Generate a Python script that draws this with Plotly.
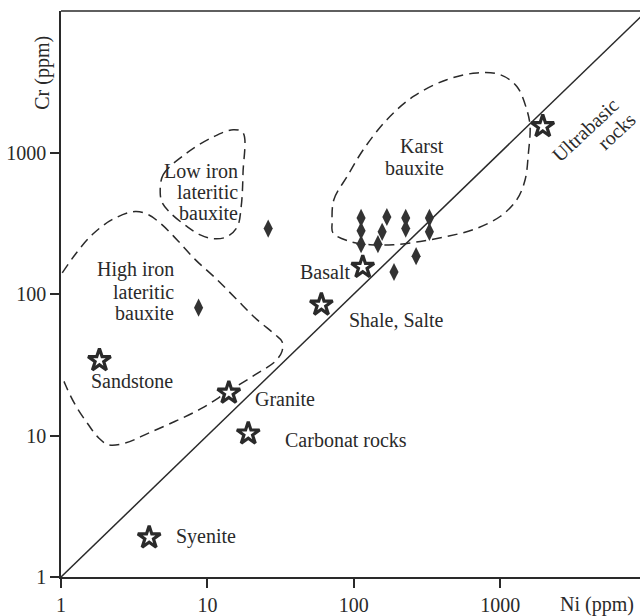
import math
import plotly.graph_objects as go

# ---- data (Ni ppm, Cr ppm) ----
diamond_ni = [8.7, 26, 112, 112, 112, 168, 156, 146, 226, 226, 328, 328, 266, 188]
diamond_cr = [80, 290, 345, 280, 225, 350, 275, 225, 345, 290, 345, 275, 185, 143]

rock_names = ["Sandstone", "Granite", "Carbonat rocks", "Syenite", "Shale, Salte", "Basalt", "Ultrabasic rocks"]
rock_ni = [1.83, 14, 19, 4.0, 60, 115, 1950]
rock_cr = [34, 20, 10.3, 1.9, 84, 155, 1530]

low_iron_ni = [4.76, 4.99, 7.28, 11.0, 15.0, 17.5, 17.5, 17.0, 16.0, 13.6, 11.0, 8.93, 7.28, 5.57, 4.91, 4.76]
low_iron_cr = [520, 697, 997, 1293, 1449, 1380, 720, 414, 299, 254, 246, 262, 299, 375, 442, 520]

high_iron_ni = [1.02, 1.25, 1.63, 2.23, 3.21, 3.96, 4.89, 6.35, 8.26, 11.3, 15.5, 21.2, 29.0, 32.3,
                32.3, 29.0, 21.2, 13.9, 9.17, 6.03, 3.96, 2.75, 2.11, 1.81, 1.54, 1.25, 1.07, 1.02]
high_iron_cr = [141, 190, 262, 335, 383, 363, 309, 235, 175, 130, 93.7, 67.7, 51.6, 46.2,
                39.3, 33.4, 26.9, 20.5, 15.6, 12.6, 10.4, 8.85, 8.61, 9.6, 11.9, 16.5, 22.9, 26.2]

karst_ni = [71, 73, 90, 116, 168, 255, 431, 691, 997, 1297, 1517, 1597, 1556, 1477, 1297, 997, 655, 431, 284, 186, 129, 94, 72, 71]
karst_cr = [318, 464, 678, 1047, 1706, 2490, 3270, 3647, 3548, 2931, 2006, 1529, 992, 642, 464, 353, 285, 255, 235, 223, 223, 235, 270, 318]

ref_line = [1, 10000]

x_ticks = [1, 10, 100, 1000]
y_ticks = [1, 10, 100, 1000]

INK = "#2a2a2a"
FONT = "Liberation Serif"
FS = 20

fig = go.Figure()

dash_line = dict(color=INK, width=1.5, dash="10px,6px", shape="spline", smoothing=1.0)
for xs, ys in [(low_iron_ni, low_iron_cr), (high_iron_ni, high_iron_cr), (karst_ni, karst_cr)]:
    fig.add_trace(go.Scatter(x=xs, y=ys, mode="lines", line=dash_line, hoverinfo="skip", showlegend=False))

fig.add_trace(go.Scatter(x=ref_line, y=ref_line, mode="lines", line=dict(color=INK, width=1.5),
                         showlegend=False, hoverinfo="skip"))

fig.add_trace(go.Scatter(x=diamond_ni, y=diamond_cr, mode="markers",
                         marker=dict(symbol="diamond-tall", size=13, color="#333333", line=dict(width=0)),
                         showlegend=False))

fig.add_trace(go.Scatter(x=rock_ni, y=rock_cr, mode="markers", text=rock_names,
                         marker=dict(symbol="star", size=17, color="white", line=dict(width=3.2, color=INK)),
                         showlegend=False, cliponaxis=False))

L = math.log10
def A(text, x, y, xanchor="left", angle=0):
    # annotations on log axes take log10 positions
    fig.add_annotation(x=L(x), y=L(y), xref="x", yref="y", text=text, showarrow=False,
                       xanchor=xanchor, yanchor="middle", textangle=angle,
                       font=dict(family=FONT, size=FS, color=INK))

A("Low iron", 16.7, 735, "right")
A("lateritic", 16.7, 522, "right")
A("bauxite", 16.7, 374, "right")
A("High iron", 6.12, 148.5, "right")
A("lateritic", 6.12, 104, "right")
A("bauxite", 6.12, 73.8, "right")
A("Karst", 427, 1105, "right")
A("bauxite", 427, 781, "right")
A("Basalt", 97.4, 143.8, "right")
A("Shale, Salte", 90, 65, "left")
A("Sandstone", 3.03, 24.1, "center")
A("Granite", 20.4, 18.1, "left")
A("Carbonat rocks", 32.8, 9.34, "left")
A("Syenite", 5.87, 1.94, "left")
A("Ultrabasic", 3793, 1449, "center", -43)
A("rocks", 6240, 1409, "center", -43)

fig.add_annotation(x=-0.031, y=0.891, xref="paper", yref="paper", text="Cr (ppm)", showarrow=False,
                   textangle=-90, xanchor="center", yanchor="middle",
                   font=dict(family=FONT, size=FS, color=INK))
fig.add_annotation(x=0.926, y=-0.049, xref="paper", yref="paper", text="Ni (ppm)", showarrow=False,
                   xanchor="center", yanchor="middle",
                   font=dict(family=FONT, size=FS, color=INK))

fig.add_shape(type="line", xref="paper", yref="paper", x0=0, x1=1.05, y0=1, y1=1,
              line=dict(color=INK, width=1.5))

axis_common = dict(type="log", showgrid=False, zeroline=False, showline=True, linecolor=INK, linewidth=1.5,
                   ticks="outside", ticklen=9, tickwidth=1.5, tickcolor=INK,
                   tickfont=dict(family=FONT, size=FS, color=INK), mirror=False)

fig.update_layout(
    width=640, height=616,
    margin=dict(l=61, r=0, t=11, b=39),
    paper_bgcolor="white", plot_bgcolor="white",
    xaxis=dict(range=[0, 3.954], tickvals=x_ticks, ticktext=[str(v) for v in x_ticks], **axis_common),
    yaxis=dict(range=[0, 4], tickvals=y_ticks, ticktext=[str(v) for v in y_ticks], **axis_common),
)

fig.write_html("out.html", config={"displayModeBar": False},
               post_script="document.body.style.margin='0';document.body.style.overflow='hidden';")
